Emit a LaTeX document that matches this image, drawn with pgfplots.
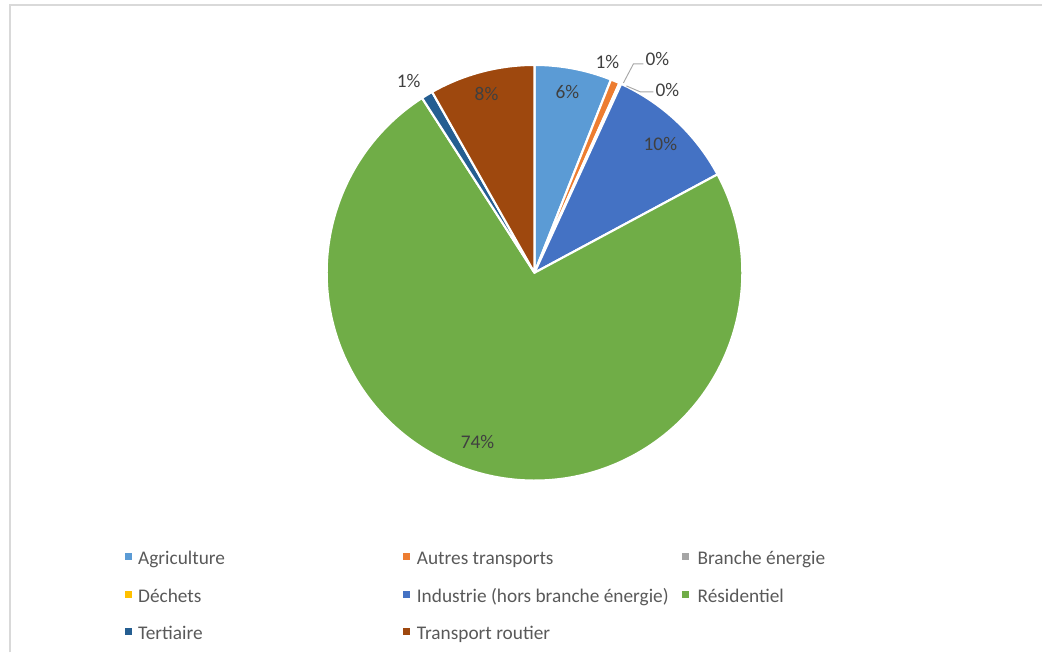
\documentclass[border=0pt]{standalone}
\usepackage{pgfplots}
\usepackage{pgfplotstable}
\pgfplotsset{compat=1.18}
\usepackage{fontspec}
\setmainfont{Carlito}
\definecolor{cAgri}{HTML}{5B9BD5}
\definecolor{cAutr}{HTML}{ED7D31}
\definecolor{cBran}{HTML}{A5A5A5}
\definecolor{cDech}{HTML}{FFC000}
\definecolor{cIndu}{HTML}{4472C4}
\definecolor{cResi}{HTML}{70AD47}
\definecolor{cTert}{HTML}{255E91}
\definecolor{cTran}{HTML}{9E480E}
\definecolor{lblgray}{HTML}{404040}
\definecolor{leggray}{HTML}{595959}
\definecolor{bordergray}{HTML}{D9D9D9}
\definecolor{leadergray}{HTML}{A6A6A6}

\pgfplotstableread[col sep=comma]{
name,value,color
Agriculture,6.0,cAgri
Autres transports,0.7,cAutr
Branche énergie,0.1,cBran
Déchets,0.05,cDech
Industrie,10.3,cIndu
Résidentiel,73.75,cResi
Tertiaire,0.9,cTert
Transport routier,8.2,cTran
}\piedata

\begin{document}
\begin{tikzpicture}
\begin{axis}[
  scale only axis, width=782.25pt, height=489.75pt,
  xmin=0, xmax=1043, ymin=0, ymax=653,
  hide axis, clip=false,
]
\path (axis cs:0,0) rectangle (axis cs:1043,653);
% chart border (left and top visible)
\draw[bordergray, line width=1.5pt] (axis cs:10,0) -- (axis cs:10,648) -- (axis cs:1043,648);
% pie slices
\def\cum{0}
\pgfplotsforeachungrouped \i in {0,...,7}{%
  \pgfplotstablegetelem{\i}{value}\of\piedata \let\v\pgfplotsretval
  \pgfplotstablegetelem{\i}{color}\of\piedata \let\c\pgfplotsretval
  \pgfmathsetmacro\a{90-3.6*\cum}%
  \pgfmathsetmacro\b{90-3.6*(\cum+\v)}%
  \edef\cmd{\noexpand\filldraw[fill=\c, draw=white, line width=1.6pt, line join=round] (axis cs:535,380) -- ++(\a:156pt) arc[start angle=\a, end angle=\b, radius=156pt] -- cycle;}%
  \cmd
  \pgfmathsetmacro\cum{\cum+\v}%
  \xdef\cum{\cum}%
}
% leader lines
\draw[leadergray, line width=0.7pt] (axis cs:624,570) -- (axis cs:634,589) -- (axis cs:644,589);
\draw[leadergray, line width=0.7pt] (axis cs:627,567) -- (axis cs:641,561) -- (axis cs:654,561);
% data labels
\begin{scope}[every node/.style={font=\fontsize{14.5pt}{17pt}\selectfont, text=lblgray, inner sep=0pt, anchor=base}]
\node at (axis cs:568,554) {6\%};
\node at (axis cs:608,584) {1\%};
\node at (axis cs:658,587) {0\%};
\node at (axis cs:668,556) {0\%};
\node at (axis cs:661,502) {10\%};
\node at (axis cs:478,204) {74\%};
\node at (axis cs:409,565) {1\%};
\node at (axis cs:487,552) {8\%};
\end{scope}
% legend
\begin{scope}[every node/.style={font=\fontsize{14.5pt}{17pt}\selectfont, text=leggray, inner sep=0pt, anchor=base west}]
\fill[cAgri] (axis cs:125,92.5) rectangle (axis cs:132,99.5);
\node at (axis cs:138,88) {Agriculture};
\fill[cAutr] (axis cs:403,92.5) rectangle (axis cs:410,99.5);
\node at (axis cs:417,88) {Autres transports};
\fill[cBran] (axis cs:683,92.5) rectangle (axis cs:690,99.5);
\node at (axis cs:698,88) {Branche énergie};
\fill[cDech] (axis cs:125,54.5) rectangle (axis cs:132,61.5);
\node at (axis cs:138,50) {Déchets};
\fill[cIndu] (axis cs:403,54.5) rectangle (axis cs:410,61.5);
\node at (axis cs:417,50) {Industrie (hors branche énergie)};
\fill[cResi] (axis cs:683,54.5) rectangle (axis cs:690,61.5);
\node at (axis cs:698,50) {Résidentiel};
\fill[cTert] (axis cs:125,17.5) rectangle (axis cs:132,24.5);
\node at (axis cs:138,13) {Tertiaire};
\fill[cTran] (axis cs:403,17.5) rectangle (axis cs:410,24.5);
\node at (axis cs:417,13) {Transport routier};
\end{scope}
\end{axis}
\end{tikzpicture}
\end{document}
